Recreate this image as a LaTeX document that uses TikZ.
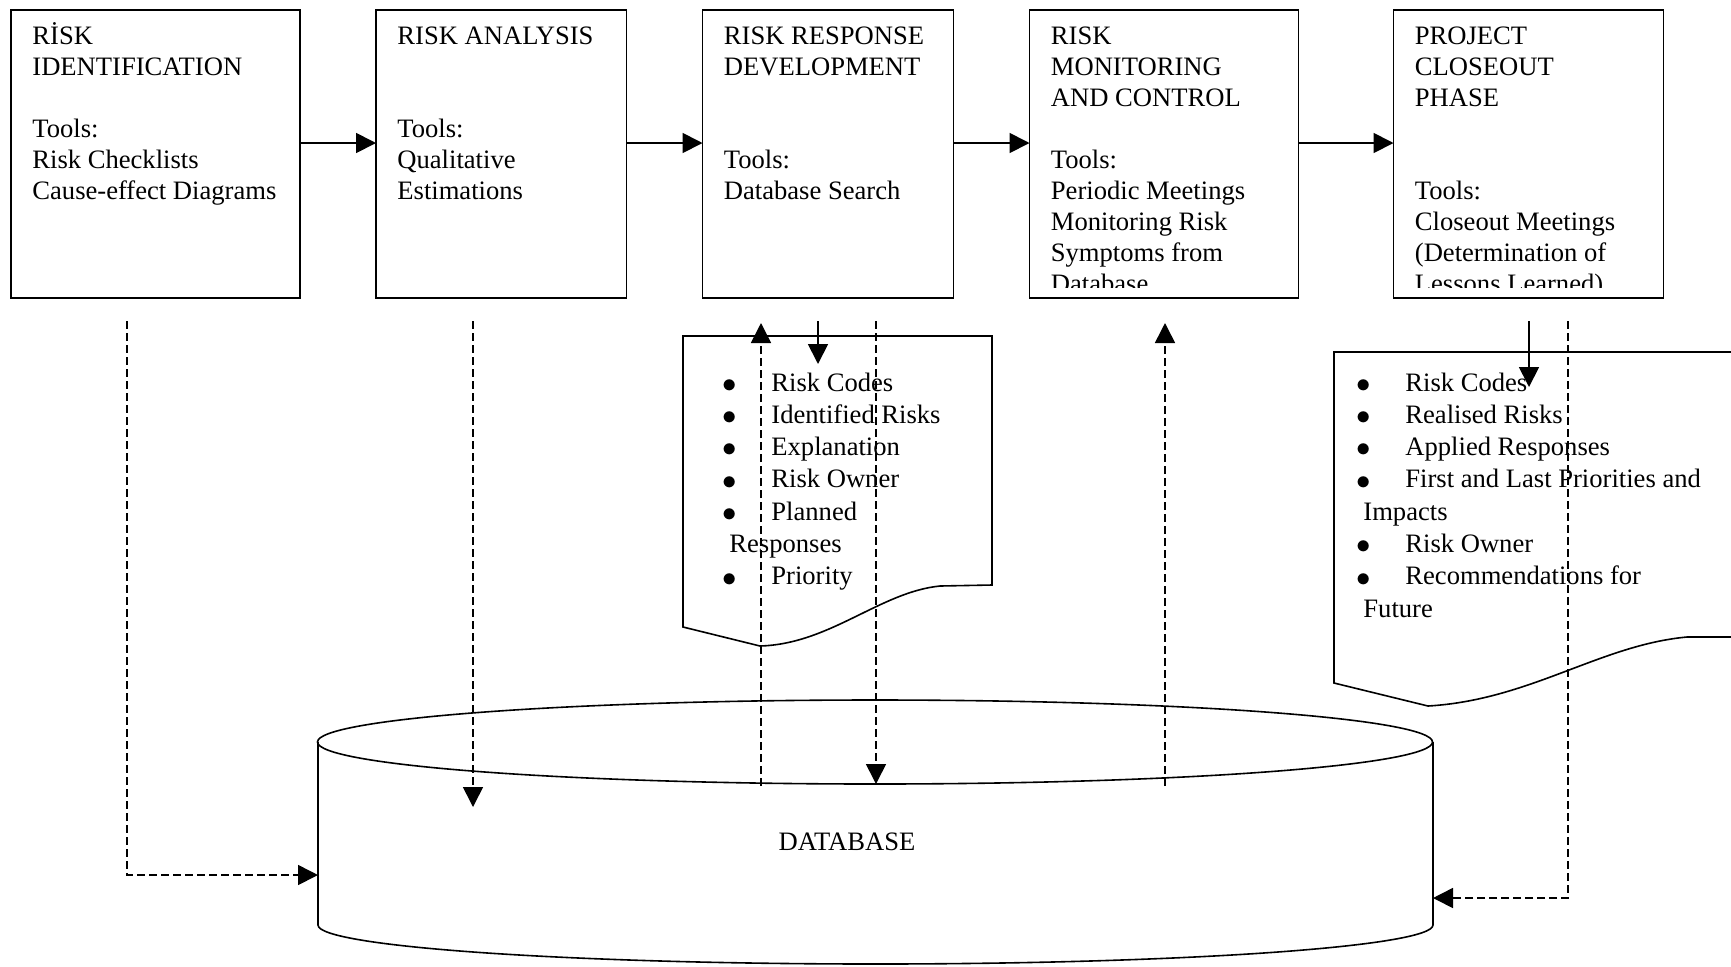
\documentclass[tikz,border=0pt]{standalone}
\usepackage{fontspec}
\setmainfont{Liberation Serif}
\usetikzlibrary{positioning,arrows.meta}
\newcommand{\listdot}{\makebox[21pt][l]{\kern-3.7pt\raisebox{-0.6pt}{$\bullet$}}}

\begin{document}
\begin{tikzpicture}[x=0.5pt,y=-0.5pt,>={Triangle[length=10pt,width=10pt]},
  stage/.style={draw,line width=0.9pt,minimum height=144pt,inner sep=0pt,outer sep=0pt},
  stagetext/.style={anchor=north west,inner sep=0pt,align=left,font=\fontsize{13.3}{15.5}\selectfont},
  listtext/.style={anchor=north west,inner sep=0pt,align=left,font=\fontsize{13.3}{16.15}\selectfont},
  flow/.style={->,line width=0.9pt},
  dbflow/.style={->,line width=0.8pt,dash pattern=on 4pt off 2pt}]
  \useasboundingbox (0,0) rectangle (1731,966);
  \node[stage,minimum width=144.5pt,anchor=north west] (1) at (11,10) {};
  \node[stage,minimum width=125.25pt,right=38pt of 1] (2) {};
  \node[stage,minimum width=125.5pt,right=38pt of 2] (3) {};
  \node[stage,minimum width=134.5pt,right=38pt of 3] (4) {};
  \node[stage,minimum width=135pt,right=47.5pt of 4] (5) {};
  \begin{scope}
    \clip (0,0) rectangle (1731,287);
    \node[stagetext] (t1) at ([shift={(10.5pt,-6.15pt)}]1.north west) {\strut RİSK\\IDENTIFICATION\\[15.5pt]Tools:\\Risk Checklists\\Cause-effect Diagrams};
    \node[stagetext] (t2) at ([shift={(10.5pt,-6.15pt)}]2.north west) {\strut RISK ANALYSIS\\[31pt]Tools:\\Qualitative\\Estimations};
    \node[stagetext] (t3) at ([shift={(10.5pt,-6.15pt)}]3.north west) {\strut RISK RESPONSE\\DEVELOPMENT\\[31pt]Tools:\\Database Search};
    \node[stagetext] (t4) at ([shift={(10.5pt,-6.15pt)}]4.north west) {\strut RISK\\MONITORING\\AND CONTROL\\[15.5pt]Tools:\\Periodic Meetings\\Monitoring Risk\\Symptoms from\\Database};
    \node[stagetext] (t5) at ([shift={(10.5pt,-6.15pt)}]5.north west) {\strut PROJECT\\CLOSEOUT\\PHASE\\[31pt]Tools:\\Closeout Meetings\\(Determination of\\Lessons Learned)};
  \end{scope}
  \draw[flow] ([yshift=5.5pt]1.east) -- ([yshift=5.5pt]2.west);
  \draw[flow] ([yshift=5.5pt]2.east) -- ([yshift=5.5pt]3.west);
  \draw[flow] ([yshift=5.5pt]3.east) -- ([yshift=5.5pt]4.west);
  \draw[flow] ([yshift=5.5pt]4.east) -- ([yshift=5.5pt]5.west);

  \draw[line width=0.8pt] (683,336) -- (992,336) -- (992,585) -- (940,586) .. controls (880,592) and (830,644) .. (760,646) -- (683,627) -- cycle;
  \draw[line width=0.8pt] (1334,352) -- (1745,352) -- (1745,637) -- (1687,637) .. controls (1600,645) and (1530,700) .. (1428,706) -- (1334,683) -- cycle;
  \node[listtext] (l1) at (729,368) {\strut\listdot Risk Codes\\\listdot Identified Risks\\\listdot Explanation\\\listdot Risk Owner\\\listdot Planned\\Responses\\\listdot Priority};
  \node[listtext] (l2) at (1363,368) {\strut\listdot Risk Codes\\\listdot Realised Risks\\\listdot Applied Responses\\\listdot First and Last Priorities and\\Impacts\\\listdot Risk Owner\\\listdot Recommendations for\\Future};

  \draw[line width=0.8pt] (875,742) ellipse [x radius=557.5,y radius=42];
  \draw[line width=0.8pt] (318,742) -- (318,925) arc[start angle=180,end angle=0,x radius=557.5,y radius=39] -- (1433,742);
  \node[font=\fontsize{13.3}{15.5}\selectfont] (db) at (847,842) {DATABASE};

  \coordinate (a1) at (127,321);
  \coordinate (dbw) at (318,875);
  \coordinate (a2) at (473,321);
  \coordinate (e2) at (473,807);
  \coordinate (a3) at (761,786);
  \coordinate (e3) at (761,323);
  \coordinate (a4) at (876,321);
  \coordinate (e4) at (876,784);
  \coordinate (a5) at (818,321);
  \coordinate (e5) at (818,364);
  \coordinate (a6) at (1165,786);
  \coordinate (e6) at (1165,323);
  \coordinate (a7) at (1529,321);
  \coordinate (e7) at (1529,387);
  \coordinate (a8) at (1568,321);
  \coordinate (dbe) at (1433,898);
  \draw[dbflow] (a1) |- (dbw);
  \draw[dbflow] (a2) -- (e2);
  \draw[dbflow] (a3) -- (e3);
  \draw[dbflow] (a4) -- (e4);
  \draw[flow] (a5) -- (e5);
  \draw[dbflow] (a6) -- (e6);
  \draw[flow] (a7) -- (e7);
  \draw[dbflow] (a8) |- (dbe);
\end{tikzpicture}
\end{document}
